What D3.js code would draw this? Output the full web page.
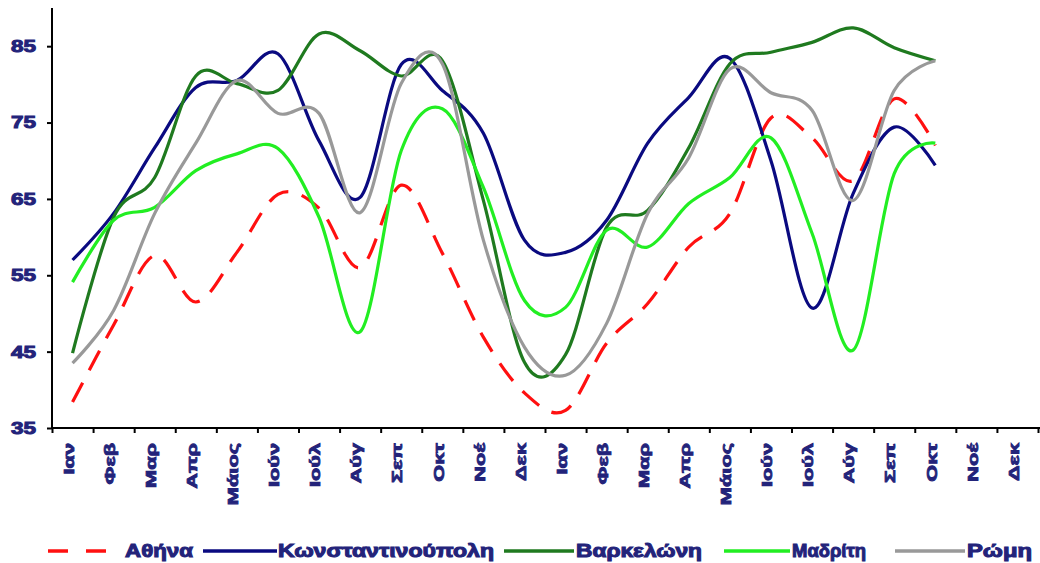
<!DOCTYPE html>
<html>
<head>
<meta charset="utf-8">
<script src="https://cdn.jsdelivr.net/npm/d3@7/dist/d3.min.js"></script>
<style>
  html, body { margin: 0; padding: 0; background: #ffffff; }
  svg { display: block; }
  text { font-family: "Liberation Sans", Arial, sans-serif; font-weight: bold; fill: #23237a; }
</style>
</head>
<body>
<svg id="chart" width="1040" height="563"></svg>
<script>
// ---- data ----
const monthLabels = ["Ιαν","Φεβ","Μαρ","Απρ","Μάιος","Ιούν","Ιούλ","Αύγ","Σεπ","Οκτ","Νοέ","Δεκ",
                     "Ιαν","Φεβ","Μαρ","Απρ","Μάιος","Ιούν","Ιούλ","Αύγ","Σεπ","Οκτ","Νοέ","Δεκ"];
const yTicks = [35, 45, 55, 65, 75, 85];
const seriesNames = ["Αθήνα","Κωνσταντινούπολη","Βαρκελώνη","Μαδρίτη","Ρώμη"];
const athens     = [38.4,48.5,57.6,51.5,58.0,65.6,63.8,56.0,66.8,57.9,46.9,39.6,37.3,46.1,51.3,58.7,63.1,75.6,73.0,67.4,78.1,72.0];
const istanbul   = [57.0,63.1,71.7,79.6,80.5,84.0,72.6,65.2,82.6,79.2,73.6,59.6,58.0,62.2,72.3,78.3,83.4,70.0,50.7,65.7,74.4,69.4];
const barcelona  = [44.8,62.6,67.8,81.1,80.1,79.2,86.6,84.4,81.1,83.1,64.8,43.6,44.6,61.3,63.5,71.7,82.7,84.2,85.5,87.4,84.8,83.1];
const madrid     = [54.1,62.2,63.9,68.7,70.9,71.6,62.6,47.6,71.3,76.8,66.5,51.7,50.8,60.9,58.7,64.4,67.8,73.0,60.5,45.2,68.3,72.3];
const rome       = [43.5,50.4,63.1,72.3,80.5,76.2,76.2,63.2,80.1,82.7,59.6,45.6,41.9,48.7,63.1,70.4,82.0,78.9,76.6,64.8,79.2,83.1];

// ---- styles (kept apart from data) ----
const styles = [
  {color: "#ff1010", dash: "22,14"},
  {color: "#0a0a80", dash: null},
  {color: "#1f7a1f", dash: null},
  {color: "#22ee22", dash: null},
  {color: "#999999", dash: null}
];
const allSeries = [athens, istanbul, barcelona, madrid, rome];

const svg = d3.select("#chart");
const mLeft = 52, mRight = 1038, mTop = 8, mBottom = 428;

const x = d3.scaleBand().domain(d3.range(monthLabels.length)).range([mLeft, mRight]).paddingInner(0).paddingOuter(0);
const xEdge = d3.scaleLinear().domain([0, monthLabels.length]).range([mLeft, mRight]);
const y = d3.scaleLinear().domain([35, 90]).range([mBottom, mTop]);

// lines
const line = d3.line()
  .x((d, i) => x(i) + x.bandwidth() / 2)
  .y(d => y(d))
  .curve(d3.curveCardinal.tension(0));

allSeries.forEach((s, k) => {
  svg.append("path")
    .datum(s)
    .attr("d", line)
    .attr("fill", "none")
    .attr("stroke", styles[k].color)
    .attr("stroke-width", 3.2)
    .attr("stroke-linejoin", "round")
    .attr("stroke-dasharray", styles[k].dash);
});

// y axis
const yAxis = svg.append("g")
  .attr("transform", `translate(${mLeft},0)`)
  .call(d3.axisLeft(y).tickValues(yTicks).tickSize(5).tickPadding(10).tickFormat(d3.format("d")));
yAxis.select(".domain").attr("stroke", "#000").attr("stroke-width", 2).attr("d", `M0,${mTop}V${mBottom}`);
yAxis.selectAll(".tick line").attr("stroke", "#000").attr("stroke-width", 2);
yAxis.selectAll(".tick text")
  .attr("font-size", 17).attr("font-family", null)
  .attr("fill", "#23237a")
  .attr("stroke", "#23237a").attr("stroke-width", 1)
  .attr("x", -16)
  .attr("textLength", 25).attr("lengthAdjust", "spacingAndGlyphs");

// x axis: boundary ticks
const xTickAxis = svg.append("g")
  .attr("transform", `translate(0,${mBottom})`)
  .call(d3.axisBottom(xEdge).tickValues(d3.range(monthLabels.length + 1)).tickSize(5).tickFormat(""));
xTickAxis.select(".domain").attr("stroke", "#000").attr("stroke-width", 2).attr("d", `M${mLeft},0H1040`);
xTickAxis.selectAll(".tick line").attr("stroke", "#000").attr("stroke-width", 2);

// x axis labels at band centres
const xLabAxis = svg.append("g")
  .attr("transform", `translate(0,${mBottom})`)
  .call(d3.axisBottom(x).tickSize(0).tickFormat(i => monthLabels[i]));
xLabAxis.select(".domain").remove();
xLabAxis.selectAll(".tick text")
  .attr("font-size", 15).attr("font-family", null)
  .attr("fill", "#23237a")
  .attr("stroke", "#23237a").attr("stroke-width", 0.8)
  .attr("text-anchor", "end")
  .attr("transform", "rotate(-90)")
  .attr("x", -15).attr("y", -4).attr("dy", "0.35em")
  .each(function() {
    const w = this.getComputedTextLength();
    d3.select(this).attr("textLength", w * 1.45).attr("lengthAdjust", "spacingAndGlyphs");
  });

// legend
const legendPos = [
  {l0: 48,  l1: 110, t0: 125, t1: 193},
  {l0: 203, l1: 277, t0: 278, t1: 494},
  {l0: 504, l1: 574, t0: 576, t1: 702},
  {l0: 724, l1: 790, t0: 792, t1: 866},
  {l0: 895, l1: 965, t0: 967, t1: 1032}
];
const lg = svg.append("g");
seriesNames.forEach((name, k) => {
  const p = legendPos[k];
  lg.append("line")
    .attr("x1", p.l0).attr("x2", p.l1).attr("y1", 551).attr("y2", 551)
    .attr("stroke", styles[k].color).attr("stroke-width", 3.5)
    .attr("stroke-dasharray", k === 0 ? "20,18" : null);
  lg.append("text")
    .attr("x", p.t0).attr("y", 557)
    .attr("font-size", 18)
    .attr("stroke", "#23237a").attr("stroke-width", 1)
    .attr("textLength", p.t1 - p.t0).attr("lengthAdjust", "spacingAndGlyphs")
    .text(name);
});
</script>
</body>
</html>
